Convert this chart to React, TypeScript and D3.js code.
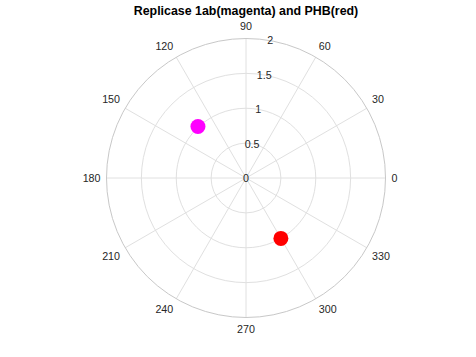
import React from "react";
import * as d3 from "d3";

const title = "Replicase 1ab(magenta) and PHB(red)";
const thetaTicks = [0, 30, 60, 90, 120, 150, 180, 210, 240, 270, 300, 330];
const rTicks = [0, 0.5, 1, 1.5, 2];
const pointNames = ["Replicase 1ab", "PHB"];
const pointTheta = [133, 300];
const pointR = [1.01, 1.0];
const pointColors = ["#ff00ff", "#ff0000"];

const W = 476;
const H = 357;
const cx = 246;
const cy = 178;
const R = 139.5;
const rAxisAngle = 80;
const font = "'Liberation Sans', Arial, Helvetica, sans-serif";
const textColor = "#262626";

export default function App() {
  const r = d3.scaleLinear().domain([0, 2]).range([0, R]);
  const rad = (deg: number) => (deg * Math.PI) / 180;
  const px = (rr: number, deg: number) => cx + rr * Math.cos(rad(deg));
  const py = (rr: number, deg: number) => cy - rr * Math.sin(rad(deg));

  return (
    <svg
      width={W}
      height={H}
      style={{ position: "absolute", left: 0, top: 0, background: "#fff" }}
      fontFamily={font}
    >
      <rect width={W} height={H} fill="#fff" />
      {rTicks.slice(1, -1).map((t) => (
        <circle key={"ring" + t} cx={cx} cy={cy} r={r(t)} fill="none" stroke="#e0e0e0" strokeWidth={1} />
      ))}
      {thetaTicks.map((t) => (
        <line
          key={"spoke" + t}
          x1={cx}
          y1={cy}
          x2={px(R, t)}
          y2={py(R, t)}
          stroke="#e0e0e0"
          strokeWidth={1}
        />
      ))}
      <circle cx={cx} cy={cy} r={R} fill="none" stroke="#c8c8c8" strokeWidth={1} />
      {thetaTicks.map((t) => {
        const c = Math.cos(rad(t));
        const s = Math.sin(rad(t));
        const anchor = c > 0.1 ? "start" : c < -0.1 ? "end" : "middle";
        const dy = s > 0.1 ? "-0.22em" : s < -0.1 ? "0.88em" : "0.36em";
        const off = R + 6;
        return (
          <text
            key={"tl" + t}
            x={px(off, t)}
            y={py(off, t)}
            dy={dy}
            textAnchor={anchor}
            fontSize={10.7}
            fill={textColor}
          >
            {t}
          </text>
        );
      })}
      {rTicks.map((t) => (
        <text
          key={"rl" + t}
          x={px(r(t), rAxisAngle)}
          y={py(r(t), rAxisAngle)}
          dy="0.36em"
          textAnchor="middle"
          fontSize={10.7}
          fill={textColor}
        >
          {t}
        </text>
      ))}
      {pointNames.map((n, i) => (
        <circle
          key={n}
          cx={px(r(pointR[i]), pointTheta[i])}
          cy={py(r(pointR[i]), pointTheta[i])}
          r={7.5}
          fill={pointColors[i]}
        />
      ))}
      <text x={cx} y={14.5} textAnchor="middle" fontSize={12.4} fontWeight="bold" fill="#000">
        {title}
      </text>
    </svg>
  );
}
